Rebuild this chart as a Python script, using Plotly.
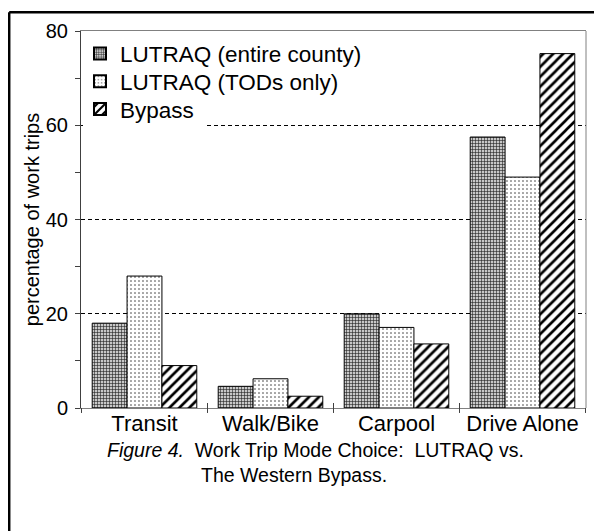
import plotly.graph_objects as go

categories = ["Transit", "Walk/Bike", "Carpool", "Drive Alone"]
series_names = ["LUTRAQ (entire county)", "LUTRAQ (TODs only)", "Bypass"]
entire_county = [18.0, 4.6, 20.0, 57.5]
tods_only = [28.0, 6.2, 17.1, 49.0]
bypass = [9.0, 2.5, 13.6, 75.2]
y_ticks = [0, 20, 40, 60, 80]
y_title = "percentage of work trips"
caption_1 = "<i>Figure 4.</i>  Work Trip Mode Choice:  LUTRAQ vs."
caption_2 = "The Western Bypass."

OFF = 8  # page body margin
W, H = 602 - OFF, 531 - OFF
L, R, T, B = 73, 16, 20, 123
PW, PH = W - L - R, H - T - B

def px_x(p):  # page pixel -> paper x
    return (p - OFF - L) / PW

def px_y(p):  # page pixel -> paper y
    return (OFF + T + PH - p) / PH

FONT = "Liberation Sans, Arial, sans-serif"

fig = go.Figure()
styles = [
    dict(shape="+", fgcolor="#202020", bgcolor="#c8c8c8", size=3, solidity=0.35, fgopacity=1),
    dict(shape=".", fgcolor="#303030", bgcolor="white", size=4, solidity=0.12, fgopacity=1),
    dict(shape="/", fgcolor="black", bgcolor="white", size=7, solidity=0.38, fgopacity=1),
]
legend_ids = ["legend", "legend2", "legend3"]
legend_rows = [51, 79, 107]
for name, vals, st, lid in zip(series_names, [entire_county, tods_only, bypass], styles, legend_ids):
    fig.add_trace(go.Bar(
        x=categories, y=vals, name=name, legend=lid,
        marker=dict(color="white", line=dict(color="black", width=1), pattern=st),
    ))

legend_common = dict(xanchor="left", yanchor="middle", bgcolor="rgba(0,0,0,0)",
                     borderwidth=0, font=dict(size=22.5), itemsizing="constant")

fig.update_layout(
    width=W, height=H,
    margin=dict(l=L, r=R, t=T, b=B, pad=0),
    paper_bgcolor="white", plot_bgcolor="white",
    barmode="group", bargap=0.17, bargroupgap=0,
    font=dict(family=FONT, size=20, color="black"),
    showlegend=True,
    legend=dict(x=px_x(80), y=px_y(legend_rows[0]), **legend_common),
    legend2=dict(x=px_x(80), y=px_y(legend_rows[1]), **legend_common),
    legend3=dict(x=px_x(80), y=px_y(legend_rows[2]), **legend_common),
    xaxis=dict(showline=True, linecolor="#808080", linewidth=1, mirror=True,
               ticks="inside", tickson="boundaries", ticklen=5, tickcolor="#404040",
               ticklabelstandoff=-4,
               showgrid=False, tickfont=dict(size=22)),
    yaxis=dict(range=[0, 80], tickvals=y_ticks, showline=True, linecolor="#404040",
               linewidth=1, ticks="outside", ticklen=5, tickcolor="#404040",
               ticklabelstandoff=3,
               showgrid=True, gridcolor="black", griddash="4px,3px", gridwidth=1,
               zeroline=False,
               minor=dict(dtick=10, ticks="outside", ticklen=5, tickcolor="#404040", showgrid=False),
               title=dict(text=y_title, font=dict(size=20), standoff=0),
               tickfont=dict(size=20)),
)

# downward part of crossing category-boundary ticks
for i in range(len(categories) + 1):
    fig.add_shape(type="line", xref="x", yref="paper", x0=i - 0.5, x1=i - 0.5,
                  y0=0, y1=px_y(413), line=dict(color="#404040", width=1))
# right plot border
fig.add_shape(type="line", xref="paper", yref="paper", x0=1, x1=1, y0=0, y1=1,
              line=dict(color="#808080", width=1))
# legend background patch over the 60 gridline
fig.add_shape(type="rect", xref="paper", yref="paper", x0=px_x(83), x1=px_x(206),
              y0=px_y(127), y1=px_y(119), fillcolor="white", line=dict(width=0),
              layer="above")
# outer frame (left and top)
fig.add_shape(type="line", xref="paper", yref="paper", x0=px_x(OFF + 1.2), x1=px_x(640),
              y0=px_y(OFF + 1.2), y1=px_y(OFF + 1.2), line=dict(color="black", width=2.5))
fig.add_shape(type="line", xref="paper", yref="paper", x0=px_x(OFF + 1.2), x1=px_x(OFF + 1.2),
              y0=px_y(OFF + 1.2), y1=px_y(600), line=dict(color="black", width=2.5))

fig.add_annotation(text=caption_1, xref="paper", yref="paper", x=px_x(105), y=px_y(450),
                   xanchor="left", yanchor="middle", showarrow=False, font=dict(size=19.5))
fig.add_annotation(text=caption_2, xref="paper", yref="paper", x=px_x(199), y=px_y(476),
                   xanchor="left", yanchor="middle", showarrow=False, font=dict(size=19.5))

fig.write_html("out.html")
